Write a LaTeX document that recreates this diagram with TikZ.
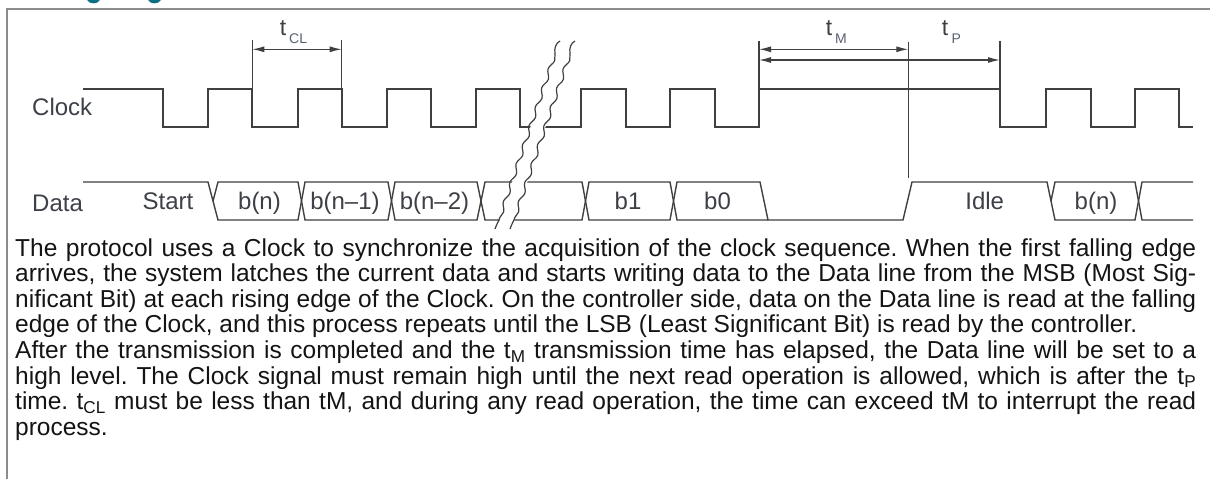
\documentclass[tikz,border=0pt]{standalone}
\usepackage{fontspec}
\setmainfont{Liberation Sans}
\usetikzlibrary{arrows.meta,decorations.pathmorphing}
\definecolor{sig}{HTML}{404040}
\definecolor{framec}{HTML}{8C8C8C}
\definecolor{lblc}{HTML}{3E4048}
\definecolor{subc}{HTML}{5A6070}
\definecolor{txtc}{HTML}{141414}
\definecolor{headc}{HTML}{0E6E82}
\begin{document}
\frenchspacing
\begin{tikzpicture}[x=1pt,y=-1pt,
  wave/.style={draw=sig,line width=1.4pt,line join=miter},
  marker/.style={draw=sig,line width=1.2pt},
  dim/.style={draw=sig,line width=1.2pt,{Latex[length=12pt,width=6pt]}-{Latex[length=12pt,width=6pt]}},
  lbl/.style={text=lblc,font=\fontsize{24}{28}\selectfont,inner sep=0pt,anchor=base},
  tlbl/.style={text=sig,font=\fontsize{23}{26}\selectfont,inner sep=0pt,anchor=base},
  slbl/.style={text=subc,font=\fontsize{14}{16}\selectfont,inner sep=0pt,anchor=base west},
  para/.style={text=txtc,font=\fontsize{24.5}{27}\selectfont,inner sep=0pt,anchor=base west},
  hook/.style={draw=sig,line width=1.2pt},
  breakline/.style={draw=sig,line width=1.2pt,decorate,decoration={snake,amplitude=1.8pt,segment length=20pt}}
]
\useasboundingbox (0,0) rectangle (1210,479);
\fill[white] (0,0) rectangle (1210,479);
% heading fragments
\fill[headc] (87,0) .. controls (89,4.5) and (98,4.5) .. (100,0) -- cycle;
\fill[headc] (148,0) .. controls (150,4.5) and (159,4.5) .. (161,0) -- cycle;
% frame
\draw[framec,line width=1.5pt] (1210,9) -- (7,9) -- (7,479);
% labels
\node[lbl,anchor=base west] (clk) at (32,115) {Clock};
\node[lbl,anchor=base west] (dat) at (32,211) {Data};
% clock
\draw[wave] (83,89) -- (163,89) -- (163,127) -- (208,127) -- (208,89) -- (252,89) -- (252,127) -- (298,127) -- (298,89) -- (342,89) -- (342,127) -- (387,127) -- (387,89) -- (431,89) -- (431,127) -- (476,127) -- (476,89) -- (520,89) -- (520,127) -- (581,127) -- (581,89) -- (626,89) -- (626,127) -- (670,127) -- (670,89) -- (715,89) -- (715,127) -- (759,127) -- (759,89) -- (1000,89) -- (1000,127) -- (1046,127) -- (1046,89) -- (1091,89) -- (1091,127) -- (1135,127) -- (1135,89) -- (1179,89) -- (1179,127) -- (1193,127);
% data
\draw[wave] (83,182) -- (208,182) -- (218,220) -- (298,220) -- (305,182) -- (388,182) -- (395,220) -- (477,220) -- (485,182) -- (582,182) -- (589,220) -- (670,220) -- (677,182) -- (760,182) -- (768,220) -- (903,220) -- (912,182) -- (1047,182) -- (1055,220) -- (1135,220) -- (1142,182) -- (1193,182);
\draw[wave] (213,201) -- (218,182) -- (298,182) -- (305,220) -- (388,220) -- (395,182) -- (477,182) -- (485,220) -- (582,220) -- (589,182) -- (670,182) -- (677,220) -- (768,220);
\draw[wave] (1051,201) -- (1055,182) -- (1135,182) -- (1142,220) -- (1193,220);
% data labels
\node[lbl] (start) at (168,209) {Start};
\node[lbl] (bn) at (259.5,209) {b(n)};
\node[lbl] (bn1) at (345,209) {b(n–1)};
\node[lbl] (bn2) at (434.5,209) {b(n–2)};
\node[lbl] (b1) at (628,209) {b1};
\node[lbl] (b0) at (717.5,209) {b0};
\node[lbl] (idle) at (984.7,209) {Idle};
\node[lbl] (bnb) at (1096,209) {b(n)};
% break
\fill[white] (559,41) -- (574,41) -- (512,228) -- (497,228) -- cycle;
\draw[hook] (560,41) .. controls (556,43) and (554,48) .. (555,54);
\draw[hook] (575,41) .. controls (571,43) and (569,48) .. (570,54);
\draw[breakline] (555,54) -- (499,220);
\draw[breakline] (570,54) -- (514,220);
\draw[hook] (499,220) .. controls (497,224) and (496,226) .. (495,229);
\draw[hook] (514,220) .. controls (512,224) and (511,226) .. (510,229);
% markers
\coordinate (m1t) at (252.3,40); \coordinate (m1b) at (252.3,89);
\coordinate (m2t) at (341.7,40); \coordinate (m2b) at (341.7,89);
\coordinate (m3t) at (759,41); \coordinate (m3b) at (759,89);
\coordinate (m4t) at (908.3,42); \coordinate (m4b) at (908.3,178);
\coordinate (m5t) at (1000,41); \coordinate (m5b) at (1000,89);
\draw[marker] (m1t) -- (m1b);
\draw[marker] (m2t) -- (m2b);
\draw[marker] (m3t) -- (m3b);
\draw[marker] (m4t) -- (m4b);
\draw[marker] (m5t) -- (m5b);
\coordinate (a1l) at (252.3,49.3); \coordinate (a1r) at (341.7,49.3);
\coordinate (a2l) at (759,49.3); \coordinate (a2r) at (908.3,49.3);
\coordinate (a3l) at (759,60); \coordinate (a3r) at (1000,60);
\draw[dim] (a1l) -- (a1r);
\draw[dim] (a2l) -- (a2r);
\draw[dim] (a3l) -- (a3r);
\node[tlbl] (tcl) at (283,35) {t};
\node[slbl] (tcls) at (289,43.5) {CL};
\node[tlbl] (tm) at (829,35) {t};
\node[slbl] (tms) at (835,43.5) {M};
\node[tlbl] (tp) at (945,35) {t};
\node[slbl] (tps) at (951.5,43.5) {P};
% paragraph
\node[para] (p1) at (15,256) {\makebox[1181pt][s]{The protocol uses a Clock to synchronize the acquisition of the clock sequence. When the first falling edge}};
\node[para] (p2) at (15,281.6) {\makebox[1181pt][s]{arrives, the system latches the current data and starts writing data to the Data line from the MSB (Most Sig-}};
\node[para] (p3) at (15,307.2) {\makebox[1181pt][s]{nificant Bit) at each rising edge of the Clock. On the controller side, data on the Data line is read at the falling}};
\node[para] (p4) at (15,332.8) {edge of the Clock, and this process repeats until the LSB (Least Significant Bit) is read by the controller.};
\node[para] (p5) at (15,358.4) {\makebox[1181pt][s]{After the transmission is completed and the t\textsubscript{M} transmission time has elapsed, the Data line will be set to a}};
\node[para] (p6) at (15,384) {\makebox[1181pt][s]{high level. The Clock signal must remain high until the next read operation is allowed, which is after the t\textsubscript{P}}};
\node[para] (p7) at (15,409.6) {\makebox[1181pt][s]{time. t\textsubscript{CL} must be less than tM, and during any read operation, the time can exceed tM to interrupt the read}};
\node[para] (p8) at (15,435.2) {process.};
\end{tikzpicture}
\end{document}
